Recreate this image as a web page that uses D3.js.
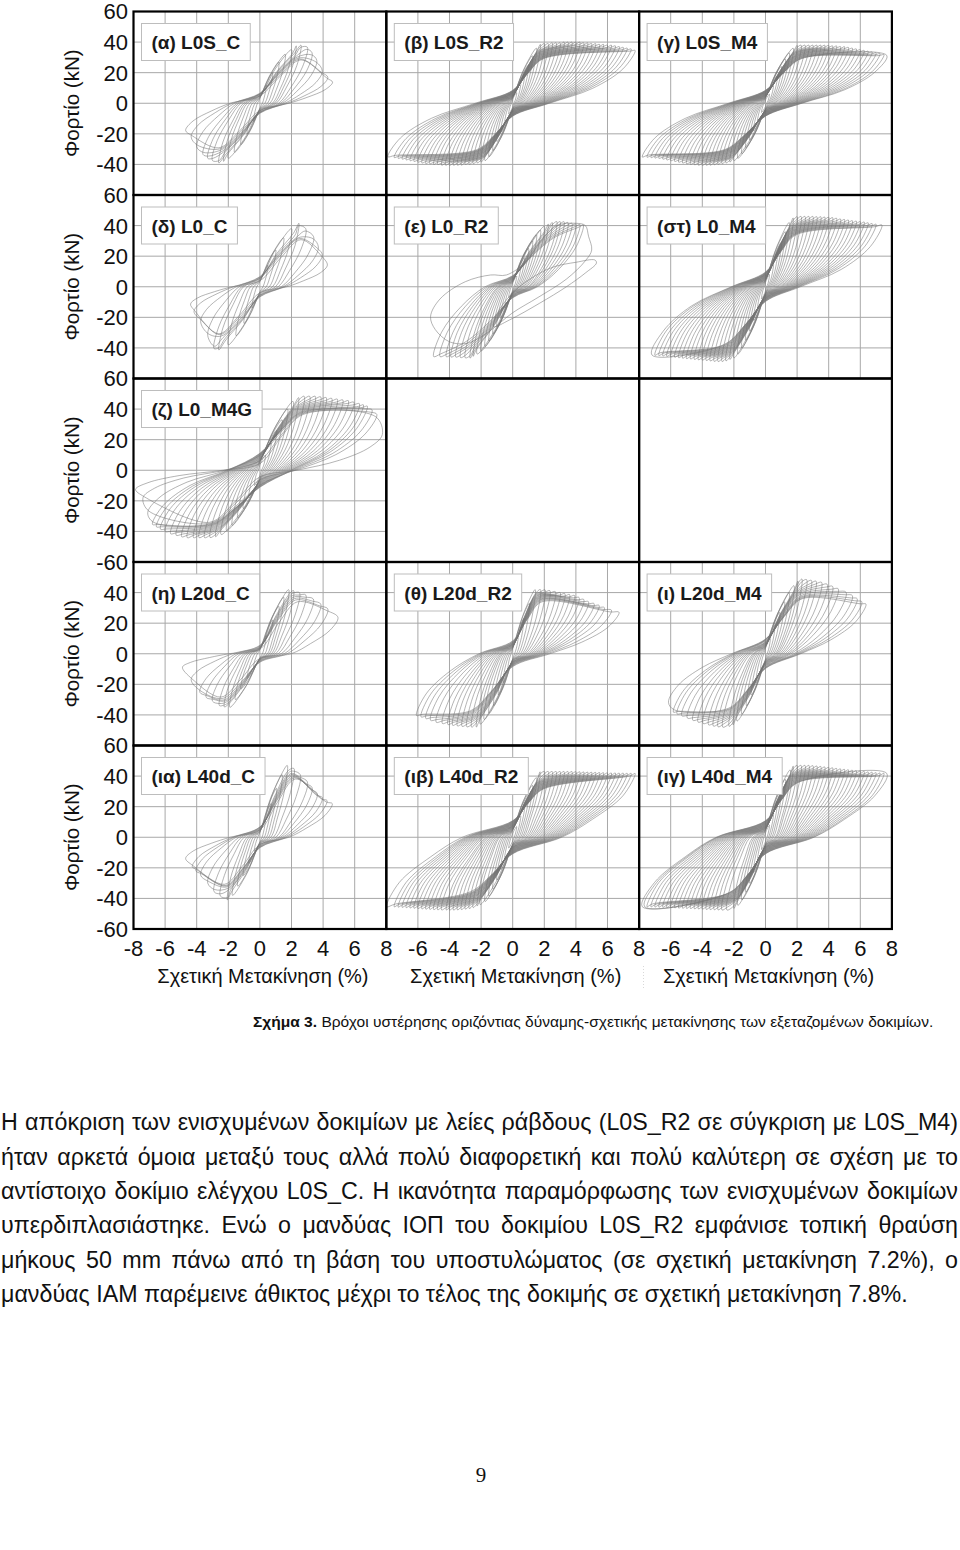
<!DOCTYPE html>
<html>
<head>
<meta charset="utf-8">
<script src="https://cdn.jsdelivr.net/npm/d3@7"></script>
<style>
  body { margin: 0; background: #fff; }
  svg { display: block; }
</style>
</head>
<body>
<svg id="page" width="960" height="1550"></svg>
<script>
// ---- axis ticks / labels ----
const xTicks = [-8, -6, -4, -2, 0, 2, 4, 6, 8];
const yTicks = [-60, -40, -20, 0, 20, 40, 60];
const yTickLabels = [
  [60, 40, 20, 0, -20, -40],
  [60, 40, 20, 0, -20, -40],
  [60, 40, 20, 0, -20, -40, -60],
  [40, 20, 0, -20, -40],
  [60, 40, 20, 0, -20, -40, -60]
];
const xTickLabels = [
  [-8, -6, -4, -2, 0, 2, 4, 6, 8],
  [-6, -4, -2, 0, 2, 4, 6, 8],
  [-6, -4, -2, 0, 2, 4, 6, 8]
];
const yTitle = "Φορτίο (kN)";
const xTitle = "Σχετική Μετακίνηση (%)";
const panelLabels = [
  ["(α) L0S_C", "(β) L0S_R2", "(γ) L0S_M4"],
  ["(δ) L0_C", "(ε) L0_R2", "(στ) L0_M4"],
  ["(ζ) L0_M4G", null, null],
  ["(η) L20d_C", "(θ) L20d_R2", "(ι) L20d_M4"],
  ["(ια) L40d_C", "(ιβ) L40d_R2", "(ιγ) L40d_M4"]
];

// ---- cycle tips: [d+, F+, d-, F-] (drift %, kN) ----
const cycL0S_C = [[0.4,12,-0.4,-12],[0.8,20,-0.8,-20],[1.2,27,-1.2,-27],[1.6,32,-1.6,-32],[2.0,35,-2.0,-36],
  [2.3,37.5,-2.3,-38],[2.6,38,-2.6,-39],[3.0,36.7,-3.0,-37.5],[3.3,33,-3.3,-36],[3.6,28,-3.6,-33.5],
  [3.95,21,-4.0,-28.5],[4.3,17,-4.35,-22],[4.6,13.8,-4.7,-17.8]];
const cycL0S_R2 = [[0.25,7,-0.25,-7],[0.5,13,-0.5,-13],[0.75,19,-0.75,-19],[1.0,25,-1.0,-25],[1.25,31,-1.25,-31],
  [1.5,36,-1.5,-35],[1.75,38.5,-1.75,-37.5],[2.0,39,-2.0,-38.5],[2.25,39,-2.25,-39],[2.5,39.5,-2.5,-39.5],
  [2.75,39.5,-2.75,-40],[3.0,39.5,-3.0,-40],[3.25,40,-3.25,-40.5],[3.5,40,-3.5,-40.5],[3.75,40,-3.75,-40.5],
  [4.0,40,-4.0,-40.6],[4.25,40,-4.25,-40.5],[4.5,39.5,-4.5,-40.5],[4.75,39.5,-4.75,-40],[5.0,39,-5.0,-40],
  [5.25,39,-5.25,-39.5],[5.5,38.5,-5.5,-39.5],[5.75,38.5,-5.75,-39],[6.0,38,-6.0,-38.5],[6.25,38,-6.25,-38],
  [6.5,37.5,-6.5,-37.5],[6.75,37,-6.75,-37],[7.0,36.5,-7.0,-36.5],[7.25,36,-7.25,-36],[7.5,35.5,-7.5,-35.5],
  [7.75,34.5,-7.9,-35]];
const cycL0S_M4 = [[0.25,6,-0.25,-6],[0.5,12,-0.5,-12],[0.75,18,-0.75,-18],[1.0,24,-1.0,-24],[1.25,29,-1.25,-29],
  [1.5,33,-1.5,-33],[1.75,36,-1.75,-36],[2.0,37.8,-2.0,-37.5],[2.25,38,-2.25,-38.5],[2.5,38,-2.5,-39],
  [2.75,38,-2.75,-39.5],[3.0,38,-3.0,-40],[3.25,38,-3.25,-40.2],[3.5,38,-3.5,-40.5],[3.75,38,-3.75,-40.5],
  [4.0,37.8,-4.0,-40.6],[4.25,37.5,-4.25,-40.5],[4.5,37.5,-4.5,-40.2],[4.75,37,-4.75,-40],[5.0,37,-5.0,-39.5],
  [5.25,36.5,-5.25,-39],[5.5,36,-5.5,-38.5],[5.75,35.5,-5.75,-38],[6.0,35,-6.0,-37.5],[6.25,34.5,-6.25,-37],
  [6.5,34,-6.5,-36.5],[6.75,33.5,-6.75,-36],[7.0,33,-7.0,-35.8],[7.25,32.5,-7.25,-35.5],[7.5,31.8,-7.5,-35.3],
  [7.68,31.2,-7.8,-35.2]];
const cycL0_C = [[0.5,14,-0.5,-14],[1.0,24,-1.0,-24],[1.5,32,-1.5,-32],[2.0,38,-2.0,-38],[2.47,41.5,-2.6,-41.3],
  [2.9,38,-2.9,-40.5],[3.4,32.7,-3.3,-32],[3.7,26,-3.75,-22.8],[3.95,20.8,-4.17,-16.3],[4.27,14.2,-4.39,-11.3]];
const cycL0_R2 = [[0.25,7,-0.25,-7],[0.5,13,-0.5,-14],[0.75,19,-0.75,-20],[1.0,25,-1.0,-26],[1.25,30,-1.25,-31],
  [1.5,34,-1.5,-35.5],[1.75,37,-1.75,-39],[2.0,39.5,-2.0,-42],[2.25,41,-2.25,-44],[2.5,42,-2.5,-45.5],
  [2.79,42.6,-2.7,-46.7],[3.0,42.6,-3.0,-46.5],[3.25,42.5,-3.3,-46.3],[3.5,42,-3.6,-46],[3.75,41.5,-3.9,-46],
  [4.0,41,-4.2,-45.8],[4.25,40.7,-4.6,-45.7],[4.47,40.4,-5.0,-45.7]];
// last two irregular loops of L0_R2 (after the local failure), traced point by point
const loopL0_R2_a = [[-5.2,-19.5],[-4.6,-8],[-3.0,3.3],[-1.4,7.7],[-0.4,7.7],[0.8,16],[1.8,30],[2.8,40],[4.0,41.5],
  [4.6,40],[4.8,33],[5.0,24],[4.6,17],[3.4,5],[1.6,-7],[0,-17],[-1.6,-30],[-2.9,-37],[-4.0,-36],[-4.9,-28]];
const loopL0_R2_b = [[2.6,13],[4.0,16],[5.2,17.5],[5.3,15.5],[4.6,9],[3.4,0],[1.7,-10.8],[-0.2,-21.7],[-1.2,-26],
  [-0.9,-16],[0.2,-2],[1.4,7]];
const cycL0_M4 = [[0.25,8,-0.25,-8],[0.5,15,-0.5,-15],[0.75,22,-0.75,-22],[1.0,29,-1.0,-29],[1.25,36,-1.25,-35],
  [1.5,42,-1.5,-40],[1.75,45,-1.75,-44],[2.0,45.8,-2.0,-46.5],[2.25,46,-2.25,-47.5],[2.5,46,-2.5,-48.5],
  [2.75,46,-2.75,-48.9],[3.0,46,-3.0,-48.9],[3.25,45.8,-3.25,-48.8],[3.5,45.8,-3.5,-48.5],[3.75,45.6,-3.75,-48.2],
  [4.0,45.5,-4.0,-48],[4.25,45.2,-4.25,-47.8],[4.5,44.8,-4.5,-47.5],[4.75,44.3,-4.75,-47.2],[5.0,44,-5.0,-47],
  [5.25,43.6,-5.25,-46.7],[5.5,43.2,-5.5,-46.4],[5.75,42.9,-5.75,-46.1],[6.0,42.6,-6.0,-45.8],[6.25,42.3,-6.25,-45.5],
  [6.5,41.8,-6.5,-45.2],[6.75,41.3,-6.75,-45],[7.0,40.9,-7.0,-44.8],[7.37,40.4,-7.19,-44.6]];
const cycL0_M4G = [[0.35,10,-0.35,-10],[0.7,18,-0.7,-18],[1.05,26,-1.05,-25],[1.4,33,-1.4,-31],[1.75,40,-1.75,-36],
  [2.1,45,-2.1,-39.5],[2.45,47.5,-2.45,-42],[2.8,48.4,-2.8,-43.5],[3.15,48.4,-3.15,-44],[3.5,48.4,-3.5,-44.1],
  [3.85,48,-3.85,-44.1],[4.2,47.5,-4.2,-44.1],[4.55,47,-4.6,-44.1],[4.9,46.5,-4.95,-43.5],[5.25,46,-5.3,-42.5],
  [5.6,45.5,-5.65,-41.5],[5.95,44.5,-6.0,-40],[6.3,43.5,-6.3,-38.5],[6.55,42.8,-6.55,-37],[6.8,41.9,-6.8,-35.4],
  [7.1,39.5,-7.1,-27.8],[7.4,36.5,-7.4,-18],[7.75,23.4,-7.87,-12.5]];
const cycL20d_C = [[0.4,12,-0.4,-9],[0.8,22,-0.8,-16],[1.2,31,-1.2,-23],[1.5,37,-1.55,-30],[1.82,41.9,-1.9,-35],
  [2.13,41.3,-2.25,-34.8],[2.5,40,-2.56,-33.9],[2.9,38.5,-3.0,-31],[3.38,35.8,-3.4,-28.5],[3.85,32.5,-3.8,-25.2],
  [4.3,29.3,-4.35,-17],[4.94,23.8,-4.9,-8.8]];
const cycL20d_R2 = [[0.35,12,-0.3,-10],[0.7,23,-0.6,-19],[1.05,33,-0.9,-27],[1.42,41.9,-1.2,-34],[1.75,42,-1.5,-39],
  [2.05,41.8,-1.8,-43],[2.35,41.3,-2.05,-46],[2.7,40.6,-2.3,-48],[3.0,40,-2.6,-48],[3.3,39.3,-2.9,-47.8],
  [3.6,38.7,-3.2,-47.5],[3.91,38.1,-3.5,-47.2],[4.2,36.8,-3.8,-46.8],[4.5,35.5,-4.1,-46.3],[4.8,34,-4.45,-45.6],
  [5.15,32.8,-4.84,-44.8],[5.47,31.6,-5.2,-43.5],[5.8,30.2,-5.5,-42.3],[6.25,28.5,-5.8,-41.3],[6.73,27.1,-6.09,-40.4]];
const cycL20d_M4 = [[0.3,10,-0.3,-10],[0.6,19,-0.6,-19],[0.9,27,-0.9,-27],[1.2,34,-1.2,-34],[1.5,40,-1.5,-39.5],
  [1.8,44.5,-1.8,-44],[2.05,47.5,-2.05,-46.5],[2.3,48.9,-2.3,-47.5],[2.6,48.5,-2.7,-48],[2.9,48,-3.0,-47.8],
  [3.2,47.5,-3.3,-47.3],[3.55,46.7,-3.6,-46.5],[3.9,45.5,-3.95,-45.6],[4.25,44,-4.27,-44.7],[4.6,42.5,-4.6,-43.5],
  [5.1,40.2,-4.95,-42],[5.5,38,-5.3,-40.5],[5.8,36,-5.6,-39.3],[6.1,34,-5.83,-38.2],[6.36,32.5,-6.14,-31.7]];
const cycL40d_C = [[0.35,12,-0.35,-9],[0.7,22,-0.7,-17],[1.05,32,-1.05,-25],[1.4,41,-1.4,-32],[1.73,47,-1.73,-38],
  [2.15,45,-2.06,-41],[2.55,41,-2.5,-38.5],[3.0,36.3,-2.9,-35.6],[3.3,32.5,-3.3,-30],[3.63,28.6,-3.75,-24.8],
  [3.95,26,-4.05,-22],[4.25,24,-4.28,-19.3],[4.58,22,-4.7,-13.9]];
const cycL40d_R2 = [[0.25,7,-0.25,-7],[0.5,14,-0.5,-14],[0.75,21,-0.75,-21],[1.0,28,-1.0,-28],[1.25,34,-1.25,-34],
  [1.5,39,-1.5,-38.5],[1.73,42.8,-1.75,-42],[2.0,43,-2.06,-44],[2.25,43,-2.25,-45],[2.5,43,-2.5,-46],
  [2.75,43,-2.75,-46.6],[3.0,43,-3.0,-47],[3.25,43,-3.25,-47.3],[3.5,43,-3.5,-47.5],[3.75,43,-3.75,-47.6],
  [4.0,42.9,-4.0,-47.6],[4.25,42.8,-4.2,-47.6],[4.5,42.7,-4.5,-47.5],[4.75,42.6,-4.75,-47.4],[5.0,42.5,-5.0,-47.3],
  [5.25,42.4,-5.25,-47.1],[5.5,42.3,-5.5,-47],[5.75,42.2,-5.75,-46.8],[6.0,42.1,-6.0,-46.6],[6.25,42,-6.25,-46.4],
  [6.5,42,-6.5,-46.2],[6.75,41.9,-6.75,-46],[7.0,41.9,-7.0,-45.8],[7.25,41.8,-7.25,-45.7],[7.5,41.8,-7.5,-45.5],
  [7.75,41.7,-7.97,-45.4]];
const cycL40d_M4 = [[0.25,8,-0.25,-8],[0.5,16,-0.5,-16],[0.75,24,-0.75,-23],[1.0,31,-1.0,-30],[1.25,38,-1.25,-36],
  [1.56,44,-1.5,-41],[1.75,46.5,-1.75,-44.5],[2.0,47,-2.0,-46.5],[2.25,47,-2.44,-47.6],[2.5,47,-2.75,-47.6],
  [2.75,47,-3.0,-47.5],[3.0,46.8,-3.25,-47.4],[3.25,46.6,-3.5,-47.3],[3.5,46.3,-3.75,-47.2],[3.75,46,-4.0,-47],
  [4.0,45.7,-4.25,-46.9],[4.25,45.4,-4.5,-46.8],[4.5,45,-4.75,-46.6],[4.75,44.7,-5.0,-46.5],[5.0,44.4,-5.25,-46.4],
  [5.25,44.1,-5.5,-46.3],[5.5,43.8,-5.75,-46.1],[5.75,43.5,-6.0,-46],[6.0,43.2,-6.25,-45.9],[6.25,43,-6.5,-45.8],
  [6.5,42.7,-6.75,-45.7],[6.75,42.5,-7.0,-45.6],[7.0,42.2,-7.25,-45.5],[7.25,42,-7.5,-45.5],[7.5,41.8,-7.65,-45.4],
  [7.68,41.7,-7.8,-45.4]];

const cycleData = [
  [cycL0S_C, cycL0S_R2, cycL0S_M4],
  [cycL0_C, cycL0_R2, cycL0_M4],
  [cycL0_M4G, null, null],
  [cycL20d_C, cycL20d_R2, cycL20d_M4],
  [cycL40d_C, cycL40d_R2, cycL40d_M4]
];
const extraLoops = { "1,1": [loopL0_R2_a, loopL0_R2_b] };
// pinched load at zero drift (kN) and zero-load crossing (fraction of the cycle drift)
const pinchLoad = [[6, 7, 7], [6, 6, 8], [10, 0, 0], [5, 7, 8], [6, 9, 9]];
const zeroCross = [[0.4, 0.3, 0.3], [0.4, 0.35, 0.3], [0.3, 0, 0], [0.4, 0.35, 0.35], [0.4, 0.4, 0.4]];

const caption = ["Σχήμα 3.", " Βρόχοι υστέρησης οριζόντιας δύναμης-σχετικής μετακίνησης των εξεταζομένων δοκιμίων."];
const paragraph = [
  "Η απόκριση των ενισχυμένων δοκιμίων με λείες ράβδους (L0S_R2 σε σύγκριση με L0S_M4)",
  "ήταν αρκετά όμοια μεταξύ τους αλλά πολύ διαφορετική και πολύ καλύτερη σε σχέση με το",
  "αντίστοιχο δοκίμιο ελέγχου L0S_C.  Η ικανότητα παραμόρφωσης των ενισχυμένων δοκιμίων",
  "υπερδιπλασιάστηκε.  Ενώ ο μανδύας ΙΟΠ του δοκιμίου L0S_R2 εμφάνισε τοπική θραύση",
  "μήκους 50 mm πάνω από τη βάση του υποστυλώματος (σε σχετική μετακίνηση 7.2%), ο",
  "μανδύας ΙΑΜ παρέμεινε άθικτος μέχρι το τέλος της δοκιμής σε σχετική μετακίνηση 7.8%."
];
const pageNumber = "9";

// ---- layout ----
const sans = "'Liberation Sans', Arial, Helvetica, sans-serif";
const plotLeft = 133.5, colW = 252.8, plotTop = 11.5, rowH = 183.5;
const nRows = 5, nCols = 3;

const svg = d3.select("#page");
const x = d3.scaleLinear().domain([-8, 8]).range([0, colW]);
const y = d3.scaleLinear().domain([-60, 60]).range([rowH, 0]);

// envelope knee (first tip at 90% of max) and largest drift, per direction
function envelope(cycles) {
  const pos = cycles.map(c => [c[0], c[1]]);
  const neg = cycles.map(c => [c[2], c[3]]);
  const pPeak = d3.max(pos, d => d[1]);
  const nPeak = d3.min(neg, d => d[1]);
  return {
    pKnee: pos.find(d => d[1] >= 0.9 * pPeak),
    nKnee: neg.find(d => d[1] <= 0.9 * nPeak),
    pMax: d3.max(pos, d => d[0]),
    nMax: -d3.min(neg, d => d[0])
  };
}

// half loop: unload from tip a, slip through the pinched waist, reload towards tip b,
// passing just under the previous cycle's tip on the way
function branch(a, b, prev, knee, dMax, w, zc) {
  const bd = Math.abs(b[0]);
  const pts = [a, [a[0] * 0.9, a[1] * 0.65], [a[0] * 0.65, a[1] * 0.28], [a[0] * zc, 0], [0, w]];
  const kd = Math.abs(knee[0]);
  const t = Math.max(0, Math.min(1, (bd - kd) / Math.max(0.1, dMax - kd)));
  const kx = knee[0] * (1 + 0.3 * t), kf = knee[1] * (0.95 - 0.14 * t);
  if (bd > kd * 1.05 && Math.abs(kx) < bd * 0.93) {
    pts.push([kx * 0.5, w + (kf - w) * 0.55], [kx, kf]);
    if (prev && Math.abs(prev[0]) > Math.abs(kx) * 1.08 && Math.abs(prev[0]) < bd * 0.97)
      pts.push([prev[0] * 0.99, prev[1] * 0.96]);
  } else {
    pts.push([b[0] * 0.5, w + (b[1] - w) * 0.6]);
  }
  return pts;
}

function loopPoints(cycles, i, env, w0, zc) {
  const c = cycles[i], p = cycles[i - 1];
  const P = [c[0], c[1]], N = [c[2], c[3]];
  const grow = 0.45 + 0.75 * (c[0] / env.pMax);
  const w = Math.min(w0 * grow, 0.35 * Math.min(P[1], -N[1]));
  return branch(N, P, p && [p[0], p[1]], env.pKnee, env.pMax, w, zc)
    .concat(branch(P, N, p && [p[2], p[3]], env.nKnee, env.nMax, -w, zc));
}

const loopLine = d3.line()
  .x(d => x(d[0]))
  .y(d => y(d[1]))
  .curve(d3.curveCatmullRomClosed.alpha(0.5));

const defs = svg.append("defs");
defs.append("clipPath").attr("id", "panelClip")
  .append("rect").attr("width", colW).attr("height", rowH);

for (let r = 0; r < nRows; r++) {
  for (let c = 0; c < nCols; c++) {
    const g = svg.append("g")
      .attr("transform", `translate(${plotLeft + c * colW},${plotTop + r * rowH})`);
    const cycles = cycleData[r][c];
    if (!cycles) continue;

    // grid
    g.append("g").selectAll("line")
      .data(xTicks.slice(1, -1)).join("line")
      .attr("x1", d => x(d)).attr("x2", d => x(d))
      .attr("y1", 0).attr("y2", rowH)
      .attr("stroke", "#a8a8a8").attr("stroke-width", 1);
    g.append("g").selectAll("line")
      .data(yTicks.slice(1, -1)).join("line")
      .attr("x1", 0).attr("x2", colW)
      .attr("y1", d => y(d)).attr("y2", d => y(d))
      .attr("stroke", "#a8a8a8").attr("stroke-width", 1);

    // hysteresis loops
    const env = envelope(cycles);
    const loops = cycles.map((cy, i) => loopPoints(cycles, i, env, pinchLoad[r][c], zeroCross[r][c]))
      .concat(extraLoops[r + "," + c] || []);
    g.append("g").attr("clip-path", "url(#panelClip)")
      .selectAll("path").data(loops).join("path")
      .attr("d", loopLine)
      .attr("fill", "none")
      .attr("stroke", "#767676")
      .attr("stroke-width", 0.55);

    // panel label box
    const lab = g.append("g").attr("transform", "translate(8,12)");
    const box = lab.append("rect").attr("height", 37)
      .attr("fill", "#fff").attr("stroke", "#bdbdbd").attr("stroke-width", 1);
    const txt = lab.append("text")
      .attr("x", 10).attr("y", 25.5)
      .attr("font-family", sans).attr("font-size", 19).attr("font-weight", "bold")
      .attr("fill", "#1a1a1a")
      .text(panelLabels[r][c]);
    box.attr("width", txt.node().getComputedTextLength() + 20);
  }
}

// panel frames
for (let r = 0; r < nRows; r++) {
  for (let c = 0; c < nCols; c++) {
    svg.append("rect")
      .attr("x", plotLeft + c * colW).attr("y", plotTop + r * rowH)
      .attr("width", colW).attr("height", rowH)
      .attr("fill", "none").attr("stroke", "#000").attr("stroke-width", 2.2);
  }
}

// y tick labels and titles
yTickLabels.forEach((vals, r) => {
  svg.append("g").selectAll("text").data(vals).join("text")
    .attr("x", 128).attr("y", d => plotTop + r * rowH + y(d))
    .attr("dy", "0.36em")
    .attr("text-anchor", "end")
    .attr("font-family", sans).attr("font-size", 22).attr("fill", "#111")
    .text(d => d);
  svg.append("text")
    .attr("transform", `translate(79,${plotTop + r * rowH + rowH / 2}) rotate(-90)`)
    .attr("text-anchor", "middle")
    .attr("font-family", sans).attr("font-size", 20.5).attr("fill", "#111")
    .text(yTitle);
});

// x tick labels and titles
const plotBottom = plotTop + nRows * rowH;
xTickLabels.forEach((vals, c) => {
  svg.append("g").selectAll("text").data(vals).join("text")
    .attr("x", d => plotLeft + c * colW + x(d)).attr("y", plotBottom + 26.5)
    .attr("text-anchor", "middle")
    .attr("font-family", sans).attr("font-size", 22).attr("fill", "#111")
    .text(d => d);
  svg.append("text")
    .attr("x", plotLeft + c * colW + colW / 2 + 3).attr("y", plotBottom + 54)
    .attr("text-anchor", "middle")
    .attr("font-family", sans).attr("font-size", 20).attr("fill", "#111")
    .text(xTitle);
});
svg.append("line")
  .attr("x1", 643.5).attr("x2", 643.5).attr("y1", plotBottom + 37).attr("y2", plotBottom + 60)
  .attr("stroke", "#d8d8d8").attr("stroke-dasharray", "1,2");

// caption in a narrow face, font size chosen so it spans the width it has in the page
const cap = svg.append("text").attr("x", 253).attr("y", 1027)
  .attr("font-family", "'Liberation Sans Narrow', " + sans)
  .attr("font-size", 18).attr("fill", "#111");
cap.append("tspan").attr("font-weight", "bold").text(caption[0]);
cap.append("tspan").text(caption[1]);
cap.attr("font-size", 18 * 681 / cap.node().getComputedTextLength());

// justified paragraph
const lineY = [1130, 1165, 1199, 1233, 1268, 1302];
const para = svg.append("g").attr("font-family", sans).attr("fill", "#111");
const probe = para.append("text").attr("font-size", 18).text(paragraph[paragraph.length - 1]);
const paraSize = 18 * 907 / probe.node().getComputedTextLength();
probe.remove();
paragraph.forEach((line, i) => {
  const t = para.append("text").attr("y", lineY[i]).attr("font-size", paraSize);
  if (i === paragraph.length - 1) {
    t.attr("x", 1).text(line);
    return;
  }
  const words = line.split(/\s+/);
  const spans = words.map(w => t.append("tspan").text(w));
  const widths = spans.map(s => s.node().getComputedTextLength());
  const gap = (957 - d3.sum(widths)) / (words.length - 1);
  let xp = 1;
  spans.forEach((s, k) => { s.attr("x", xp); xp += widths[k] + gap; });
});

svg.append("text")
  .attr("x", 481).attr("y", 1482)
  .attr("text-anchor", "middle")
  .attr("font-family", "'Liberation Serif', 'Times New Roman', serif")
  .attr("font-size", 21).attr("fill", "#111")
  .text(pageNumber);
</script>
</body>
</html>
